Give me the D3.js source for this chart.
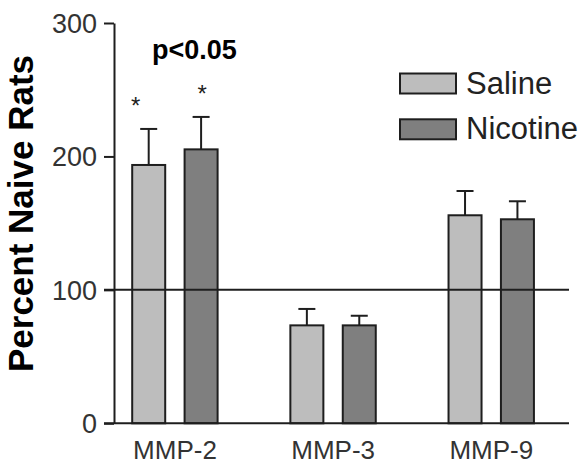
<!DOCTYPE html>
<html>
<head>
<meta charset="utf-8">
<script src="https://cdn.jsdelivr.net/npm/d3@7/dist/d3.min.js"></script>
<style>
  body { margin: 0; background: #fff; }
  svg { display: block; font-family: "Liberation Sans", Arial, sans-serif; }
</style>
</head>
<body>
<svg id="chart" width="586" height="464"></svg>
<script>
// data
var categories = ['MMP-2', 'MMP-3', 'MMP-9'];
var groups = ['Saline', 'Nicotine'];
var salineMean = [193.6, 73.4, 155.9];
var salineErr = [27.0, 12.3, 18.2];
var nicotineMean = [205.3, 73.4, 152.9];
var nicotineErr = [24.3, 7.2, 13.5];
var yTicks = [0, 100, 200, 300];
var signif = [true, false, false]; // asterisks over MMP-2
var pLabel = 'p<0.05';

var colors = {Saline: '#bdbdbd', Nicotine: '#7f7f7f'};
var ink = '#1e1e1e';

var svg = d3.select('#chart');

var y = d3.scaleLinear().domain([0, 300]).range([423.3, 23]);
var x = d3.scaleBand().domain(categories).range([95.9, 570.4]);
var xSub = d3.scaleBand().domain(groups).range([36.3, 121.7]).paddingInner(0.37);

var rows = [];
categories.forEach(function(c, i) {
    rows.push({cat: c, grp: 'Saline', v: salineMean[i], e: salineErr[i], sig: signif[i]});
    rows.push({cat: c, grp: 'Nicotine', v: nicotineMean[i], e: nicotineErr[i], sig: signif[i]});
});

// bars
var bar = svg.selectAll('.bar')
    .data(rows)
    .enter().append('g')
    .attr('class', 'bar')
    .attr('transform', function(d) { return 'translate(' + (x(d.cat) + xSub(d.grp)) + ',0)'; });

var bw = xSub.bandwidth();

// error bars (upper only)
bar.append('line')
    .attr('x1', bw / 2).attr('x2', bw / 2)
    .attr('y1', function(d) { return y(d.v); })
    .attr('y2', function(d) { return y(d.v + d.e); })
    .attr('stroke', ink).attr('stroke-width', 2);
bar.append('line')
    .attr('x1', bw / 2 - 8.5).attr('x2', bw / 2 + 8.5)
    .attr('y1', function(d) { return y(d.v + d.e); })
    .attr('y2', function(d) { return y(d.v + d.e); })
    .attr('stroke', ink).attr('stroke-width', 2);

bar.append('rect')
    .attr('x', 0)
    .attr('width', bw)
    .attr('y', function(d) { return y(d.v); })
    .attr('height', function(d) { return y(0) - y(d.v); })
    .attr('fill', function(d) { return colors[d.grp]; })
    .attr('stroke', ink)
    .attr('stroke-width', 2);

// asterisks
bar.filter(function(d) { return d.sig; })
    .append('text')
    .attr('x', function(d) { return bw / 2 + (d.grp === 'Saline' ? -13 : 1); })
    .attr('y', function(d) { return y(d.v + d.e) - 14.5; })
    .attr('text-anchor', 'middle')
    .style('font-size', '24px')
    .attr('fill', ink)
    .text('*');

// reference line at 100
svg.append('line')
    .attr('x1', 104).attr('x2', 569)
    .attr('y1', y(100)).attr('y2', y(100))
    .attr('stroke', ink).attr('stroke-width', 2);

// x axis baseline
svg.append('line')
    .attr('x1', 104).attr('x2', 569)
    .attr('y1', y(0)).attr('y2', y(0))
    .attr('stroke', ink).attr('stroke-width', 2);

// y axis
var yAxis = svg.append('g')
    .attr('transform', 'translate(114,0)')
    .call(d3.axisLeft(y).tickValues(yTicks).tickSize(10).tickSizeOuter(0).tickPadding(7));
yAxis.select('.domain').attr('stroke', ink).attr('stroke-width', 2);
yAxis.selectAll('.tick line').attr('stroke', ink).attr('stroke-width', 2);
yAxis.selectAll('.tick text')
    .style('font-size', '27px')
    .style('font-family', '"Liberation Sans", Arial, sans-serif')
    .attr('fill', '#333')
    .attr('dy', '0.34em');

// x axis labels
var xAxis = svg.append('g')
    .attr('transform', 'translate(0,' + y(0) + ')')
    .call(d3.axisBottom(x).tickSize(0).tickPadding(17));
xAxis.select('.domain').remove();
xAxis.selectAll('.tick text')
    .style('font-size', '26px')
    .style('font-family', '"Liberation Sans", Arial, sans-serif')
    .attr('fill', '#333');

// y title
svg.append('text')
    .attr('transform', 'translate(33,213.5) rotate(-90)')
    .attr('text-anchor', 'middle')
    .style('font-size', '35px')
    .style('font-weight', 'bold')
    .attr('fill', '#000')
    .text('Percent Naive Rats');

// p value
svg.append('text')
    .attr('x', 152).attr('y', 58.5)
    .style('font-size', '27px')
    .style('font-weight', 'bold')
    .attr('fill', '#000')
    .text(pLabel);

// legend
var leg = svg.selectAll('.legend')
    .data(groups)
    .enter().append('g')
    .attr('class', 'legend')
    .attr('transform', function(d, i) { return 'translate(400,' + (73.5 + i * 45.8) + ')'; });
leg.append('rect')
    .attr('width', 56).attr('height', 20)
    .attr('fill', function(d) { return colors[d]; })
    .attr('stroke', ink).attr('stroke-width', 2);
leg.append('text')
    .attr('x', 66).attr('y', 20)
    .style('font-size', '31px')
    .attr('fill', '#222')
    .text(function(d) { return d; });
</script>
</body>
</html>
